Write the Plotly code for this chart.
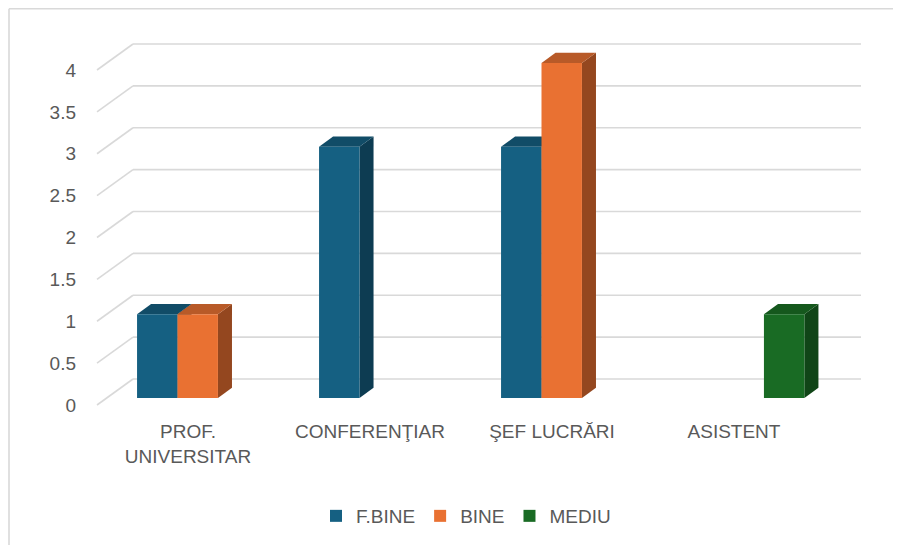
import plotly.graph_objects as go

# ---------------- data ----------------
categories = ["PROF.<br>UNIVERSITAR", "CONFERENŢIAR", "ŞEF LUCRĂRI", "ASISTENT"]
series_names = ["F.BINE", "BINE", "MEDIU"]
f_bine = [1, 3, 3, 0]
bine = [1, 0, 4, 0]
mediu = [0, 0, 0, 1]
y_ticks = [0, 0.5, 1, 1.5, 2, 2.5, 3, 3.5, 4]
y_tick_labels = ["0", "0.5", "1", "1.5", "2", "2.5", "3", "3.5", "4"]

# ---------------- style ----------------
front_colors = ["#156082", "#E97132", "#196B24"]
top_colors = ["#114C67", "#B85A28", "#15581D"]
side_colors = ["#0D3C52", "#94471F", "#104517"]
grid_color = "#D9D9D9"
text_color = "#595959"
FONT = "Liberation Sans"

W, H = 901, 545
OFF = 8                                # page body margin (figure is offset by this)
ML, MR, MT, MB = 69, 30, 12, 135
ORIGIN_X, ORIGIN_Y = 97 - OFF, 405 - OFF   # figure pixel of (category 0, value 0), front plane
PX_PER_CAT, PX_PER_UNIT = 182, 83.75
# pseudo-3D projection (depth offsets in axis units)
DX = 36 / PX_PER_CAT
DY = 26 / PX_PER_UNIT
D0, D1 = 0.27, 0.66                    # front / back depth of the bars
GAP = 1.5                              # gap width 150 %
n_series = len(series_names)
BAR_W = 1 / (n_series + GAP)


def proj(c, v, d):
    return c + d * DX, v + d * DY


def path(points):
    return "M " + " L ".join(f"{x},{y}" for x, y in points) + " Z"


series_values = [f_bine, bine, mediu]
n_cat = len(categories)
cat_centers = [i + 0.5 for i in range(n_cat)]

fig = go.Figure()
shapes = []

# back-wall gridlines + left-wall diagonals
for v in y_ticks:
    x0, y0 = proj(0, v, 1)
    x1, y1 = proj(n_cat, v, 1)
    shapes.append(dict(type="line", xref="x", yref="y", x0=x0, y0=y0, x1=x1, y1=y1,
                       line=dict(color=grid_color, width=1.6), layer="below"))
    fx, fy = proj(0, v, 0)
    shapes.append(dict(type="line", xref="x", yref="y", x0=fx, y0=fy, x1=x0, y1=y0,
                       line=dict(color=grid_color, width=1.6), layer="below"))

# front faces as bar traces; top and side faces as shapes under them
for k, (name, vals) in enumerate(zip(series_names, series_values)):
    offset = -n_series * BAR_W / 2 + k * BAR_W
    xs = [proj(c, 0, D0)[0] for c in cat_centers]
    base = proj(0, 0, D0)[1]
    fig.add_trace(go.Bar(
        name=name, x=xs, y=vals, base=[base] * n_cat,
        offset=offset, width=BAR_W,
        marker=dict(color=front_colors[k], line=dict(width=0)),
        hoverinfo="skip",
    ))

for i, c in enumerate(cat_centers):
    for k in range(n_series):
        v = series_values[k][i]
        if v == 0:
            continue
        cl = c - n_series * BAR_W / 2 + k * BAR_W
        cr = cl + BAR_W
        side = [proj(cr, 0, D0), proj(cr, v, D0), proj(cr, v, D1), proj(cr, 0, D1)]
        shapes.append(dict(type="path", xref="x", yref="y", path=path(side),
                           fillcolor=side_colors[k], line=dict(width=0), layer="below"))
        top = [proj(cl, v, D0), proj(cl, v, D1), proj(cr, v, D1), proj(cr, v, D0)]
        shapes.append(dict(type="path", xref="x", yref="y", path=path(top),
                           fillcolor=top_colors[k], line=dict(width=0), layer="below"))

# chart border (top and left edges visible)
pw, ph = W - ML - MR, H - MT - MB


def px_x(px):
    return (px - ML) / pw


def px_y(py):
    return (H - MB - py) / ph


shapes.append(dict(type="line", xref="paper", yref="paper", x0=px_x(1), y0=px_y(0.8),
                   x1=px_x(W + 5), y1=px_y(0.8), line=dict(color=grid_color, width=1.6)))
shapes.append(dict(type="line", xref="paper", yref="paper", x0=px_x(1), y0=px_y(0.8),
                   x1=px_x(1), y1=px_y(H + 5), line=dict(color=grid_color, width=1.6)))

x_range = [(ML - ORIGIN_X) / PX_PER_CAT, (W - MR - ORIGIN_X) / PX_PER_CAT]
y_range = [(ORIGIN_Y - (H - MB)) / PX_PER_UNIT, (ORIGIN_Y - MT) / PX_PER_UNIT]

fig.update_layout(
    width=W, height=H,
    margin=dict(l=ML, r=MR, t=MT, b=MB),
    paper_bgcolor="white", plot_bgcolor="white",
    barmode="overlay",
    font=dict(family=FONT, size=19, color=text_color),
    shapes=shapes,
    showlegend=True,
    legend=dict(orientation="h", xref="container", yref="container",
                x=(466 - OFF) / W, y=(H - (516 - OFF)) / H, xanchor="center", yanchor="middle",
                font=dict(family=FONT, size=19, color=text_color),
                itemwidth=30, traceorder="normal"),
    xaxis=dict(range=x_range, tickvals=cat_centers, ticktext=categories,
               showgrid=False, zeroline=False, showline=False, ticks="",
               fixedrange=True),
    yaxis=dict(range=y_range, tickvals=y_ticks, ticktext=y_tick_labels,
               showgrid=False, zeroline=False, showline=False, ticks="",
               fixedrange=True),
)

fig.write_html("out.html")
